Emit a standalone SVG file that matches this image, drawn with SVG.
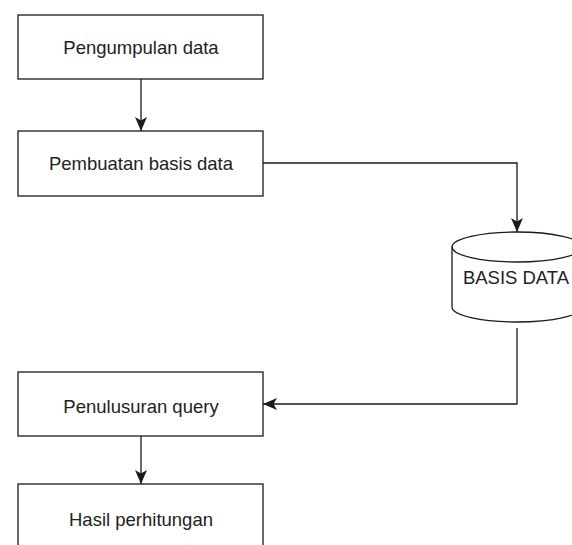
<svg xmlns="http://www.w3.org/2000/svg" width="572" height="545" viewBox="0 0 572 545">
<style>
.box{fill:#fff;stroke:#1a1a1a;stroke-width:1.3}
.edge{fill:none;stroke:#1a1a1a;stroke-width:1.3}
text{font-family:"Liberation Sans",Arial,sans-serif;font-size:18.5px;fill:#222;text-anchor:middle}
</style>
<defs>
<marker id="arr" markerUnits="userSpaceOnUse" markerWidth="16" markerHeight="16" refX="15" refY="7" orient="auto">
<path d="M1,1 L15,7 L1,13 L4.5,7 z" fill="#1a1a1a"/>
</marker>
</defs>
<rect width="572" height="545" fill="#fff"/>
<g id="connectors">
<path class="edge" d="M141,79 V131" marker-end="url(#arr)"/>
<path class="edge" d="M263,163 H517 V232" marker-end="url(#arr)"/>
<path class="edge" d="M517,328 V404 H263" marker-end="url(#arr)"/>
<path class="edge" d="M141,436 V484" marker-end="url(#arr)"/>
</g>
<g id="pengumpulan">
<rect class="box" x="18" y="15" width="245" height="64"/>
<text x="141" y="54">Pengumpulan data</text>
</g>
<g id="pembuatan">
<rect class="box" x="18" y="131" width="245" height="65"/>
<text x="141" y="170">Pembuatan basis data</text>
</g>
<g id="basisdata">
<path class="box" d="M452,247 A65,15 0 0 1 582,247 V307 A65,15 0 0 1 452,307 Z"/>
<path class="edge" d="M452,247 A65,15 0 0 0 582,247"/>
<text x="516" y="284">BASIS DATA</text>
</g>
<g id="penelusuran">
<rect class="box" x="18" y="372" width="245" height="64"/>
<text x="141" y="413">Penulusuran query</text>
</g>
<g id="hasil">
<rect class="box" x="18" y="484" width="245" height="70"/>
<text x="141" y="526">Hasil perhitungan</text>
</g>
</svg>
